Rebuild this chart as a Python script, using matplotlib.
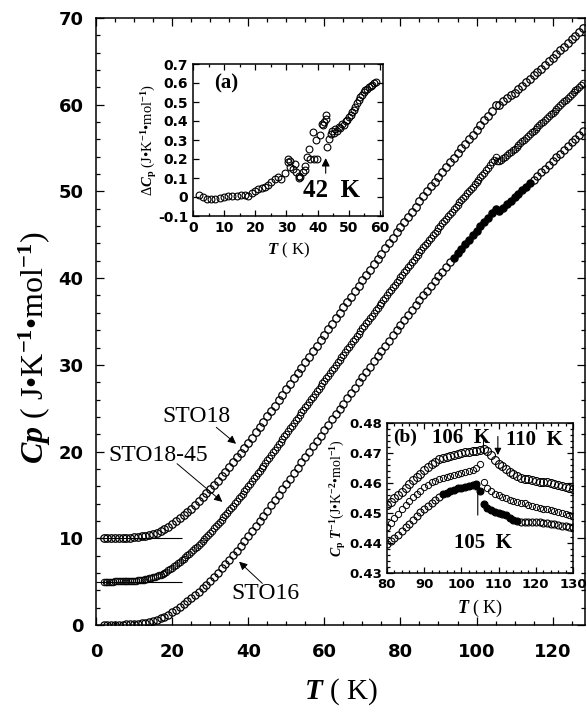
import numpy as np
import matplotlib.pyplot as plt
from matplotlib.ticker import MultipleLocator, FuncFormatter

plt.rcParams['font.family'] = 'Liberation Serif'
plt.rcParams['font.weight'] = 'bold'
plt.rcParams['mathtext.fontset'] = 'custom'
plt.rcParams['mathtext.rm'] = 'Liberation Serif:bold'
plt.rcParams['mathtext.it'] = 'Liberation Serif:bold:italic'
plt.rcParams['mathtext.bf'] = 'Liberation Serif:bold'
plt.rcParams['axes.unicode_minus'] = False

# ---- main panel: Cp(T), STO18 shifted +10, STO18-45 shifted +5 ----
T_main = np.arange(2, 129)
T_half = np.arange(2, 128.01, 0.5)

cp_sto16 = [0.00, 0.00, 0.01, 0.02, 0.03, 0.04, 0.06, 0.08, 0.11, 0.15,
            0.21, 0.28, 0.37, 0.48, 0.60, 0.76, 0.95, 1.19,
            1.46, 1.75, 2.06, 2.38, 2.72, 3.07, 3.44, 3.83, 4.24, 4.66,
            5.10, 5.56, 6.03, 6.52, 7.02, 7.53, 8.05, 8.58, 9.12, 9.67, 10.22,
            10.80, 11.39, 11.99, 12.59, 13.20, 13.81, 14.42, 15.03, 15.65, 16.27,
            16.89, 17.51, 18.13, 18.75, 19.37, 19.99, 20.61, 21.23, 21.85, 22.47,
            23.08, 23.70, 24.31, 24.93, 25.54, 26.16, 26.77, 27.38, 27.99, 28.60,
            29.21, 29.81, 30.41, 31.01, 31.61, 32.21, 32.80, 33.39, 33.98, 34.57,
            35.15, 35.73, 36.30, 36.87, 37.44, 38.00, 38.56, 39.11, 39.66, 40.21,
            40.75, 41.29, 41.82, 42.35, 42.88, 43.40, 43.92, 44.44, 44.95, 45.46,
            45.97, 46.48, 46.99, 47.50, 47.95, 47.70, 48.10, 48.50, 48.90, 49.30,
            49.71, 50.12, 50.53, 50.95, 51.37, 51.79, 52.21, 52.64, 53.07, 53.50,
            53.93, 54.36, 54.79, 55.22, 55.65, 56.08, 56.51, 56.94]

cp_sto18 = [0.00, 0.00, 0.01, 0.02, 0.03, 0.04, 0.06, 0.08, 0.11, 0.15,
            0.21, 0.28, 0.37, 0.50, 0.64, 0.82, 1.03, 1.30,
            1.61, 1.94, 2.29, 2.65, 3.03, 3.42, 3.83, 4.26, 4.71, 5.17,
            5.65, 6.14, 6.64, 7.16, 7.69, 8.23, 8.77, 9.32, 9.88, 10.45, 11.02,
            11.61, 12.21, 12.82, 13.43, 14.05, 14.67, 15.29, 15.91, 16.54, 17.17,
            17.80, 18.43, 19.06, 19.69, 20.32, 20.95, 21.58, 22.21, 22.84, 23.47,
            24.10, 24.73, 25.35, 25.99, 26.62, 27.25, 27.87, 28.50, 29.12, 29.75,
            30.38, 30.99, 31.60, 32.22, 32.84, 33.45, 34.06, 34.66, 35.27, 35.87,
            36.47, 37.07, 37.66, 38.25, 38.84, 39.42, 40.00, 40.57, 41.14, 41.71,
            42.26, 42.81, 43.35, 43.89, 44.43, 44.96, 45.49, 46.02, 46.54, 47.06,
            47.62, 48.18, 48.74, 49.30, 49.95, 50.00, 50.40, 50.75, 51.10, 51.40,
            51.79, 52.18, 52.57, 52.97, 53.37, 53.77, 54.17, 54.58, 54.99, 55.40,
            55.83, 56.26, 56.69, 57.12, 57.55, 57.98, 58.41, 58.84]

cp_sto18_45 = [0.00, 0.00, 0.00, 0.00, 0.01, 0.01, 0.02, 0.02, 0.03, 0.03,
               0.04, 0.05, 0.06, 0.07, 0.08, 0.09, 0.11, 0.13, 0.15, 0.18,
               0.21, 0.24, 0.28, 0.32, 0.37, 0.42, 0.48, 0.55, 0.62, 0.71,
               0.80, 0.91, 1.02, 1.16, 1.29, 1.45, 1.60, 1.76, 1.93, 2.10,
               2.28, 2.46, 2.64, 2.83, 3.02, 3.22, 3.42, 3.62, 3.83, 4.04,
               4.26, 4.48, 4.71, 4.94, 5.17, 5.41, 5.65, 5.89, 6.14, 6.39,
               6.64, 6.90, 7.16, 7.42, 7.69, 7.96, 8.23, 8.50, 8.77, 9.05,
               9.32, 9.60, 9.88, 10.16, 10.45, 10.73, 11.02, 11.31, 11.60, 11.90,
               12.19, 12.49, 12.79, 13.09, 13.39, 13.70, 14.00, 14.31, 14.61, 14.92,
               15.22, 15.53, 15.83, 16.14, 16.45, 16.76, 17.07, 17.37, 17.68, 17.99,
               18.29, 18.60, 18.90, 19.21, 19.51, 19.81, 20.12, 20.42, 20.73, 21.03,
               21.34, 21.64, 21.95, 22.25, 22.56, 22.86, 23.17, 23.47, 23.77, 24.07,
               24.38, 24.68, 24.98, 25.29, 25.59, 25.89, 26.19, 26.49, 26.80, 27.10,
               27.40, 27.70, 28.00, 28.30, 28.60, 28.90, 29.20, 29.50, 29.80, 30.10,
               30.39, 30.69, 30.98, 31.28, 31.57, 31.87, 32.16, 32.46, 32.76, 33.06,
               33.35, 33.65, 33.94, 34.24, 34.53, 34.83, 35.12, 35.41, 35.70, 35.99,
               36.28, 36.57, 36.85, 37.14, 37.42, 37.71, 37.99, 38.27, 38.55, 38.83,
               39.11, 39.39, 39.66, 39.94, 40.21, 40.49, 40.76, 41.03, 41.31, 41.58,
               41.86, 42.13, 42.40, 42.67, 42.94, 43.21, 43.48, 43.74, 44.00, 44.26,
               44.52, 44.78, 45.04, 45.30, 45.55, 45.81, 46.06, 46.34, 46.62, 46.90,
               47.18, 47.46, 47.74, 48.04, 48.35, 48.65, 48.95, 48.55, 48.50, 48.65,
               48.80, 49.00, 49.19, 49.38, 49.57, 49.77, 49.95, 50.15, 50.36, 50.56,
               50.76, 50.97, 51.17, 51.38, 51.59, 51.80, 52.01, 52.22, 52.42, 52.63,
               52.84, 53.05, 53.26, 53.48, 53.69, 53.90, 54.10, 54.32, 54.53, 54.74,
               54.95, 55.17, 55.38, 55.59, 55.80, 56.02, 56.23, 56.44, 56.65, 56.86,
               57.07, 57.29, 57.50]

offset_sto18 = 10
offset_sto18_45 = 5
baseline_end = 22.5
filled_range = (94, 114)   # STO16 points drawn solid in the original

# ---- inset (a): delta Cp ----
T_a = [2.0, 3.2, 4.5, 5.9, 7.2, 8.6, 9.9, 11.3, 12.6, 14.0, 15.3, 16.7, 17.7,
       18.8, 19.8, 20.9, 22.0, 23.0, 24.1, 25.2, 26.3, 27.3, 28.2, 29.5, 30.4,
       30.5, 31.0, 31.3, 32.1, 32.7, 33.2, 33.9, 34.0, 34.5, 35.4, 35.9, 36.0,
       36.5, 37.1, 37.5, 38.4, 38.8, 39.4, 39.9, 40.7, 41.3, 41.8, 42.0, 42.6,
       42.6, 43.0, 43.6, 44.2, 44.7, 45.2, 45.7, 46.2, 46.8, 47.3, 47.9, 48.4,
       49.0, 49.5, 50.0, 50.6, 51.1, 51.6, 52.1, 52.7, 53.2, 53.7, 54.3, 54.8,
       55.3, 55.9, 56.4, 57.0, 57.5, 58.1, 58.6]
dcp_a = [0.010, 0.000, -0.008, -0.010, -0.008, -0.005, -0.002, 0.003, 0.006,
         0.007, 0.008, 0.008, 0.005, 0.022, 0.033, 0.042, 0.048, 0.055, 0.063,
         0.078, 0.095, 0.105, 0.095, 0.125, 0.200, 0.185, 0.190, 0.160, 0.145,
         0.175, 0.130, 0.112, 0.100, 0.105, 0.130, 0.165, 0.140, 0.210, 0.255,
         0.200, 0.340, 0.200, 0.300, 0.200, 0.325, 0.385, 0.380, 0.395, 0.430,
         0.410, 0.265, 0.305, 0.330, 0.345, 0.335, 0.360, 0.350, 0.370, 0.365,
         0.385, 0.380, 0.400, 0.405, 0.420, 0.430, 0.445, 0.460, 0.475, 0.495,
         0.510, 0.525, 0.535, 0.550, 0.565, 0.570, 0.580, 0.585, 0.590, 0.600,
         0.605]

# ---- inset (b): Cp/T ----
T_b = np.arange(80, 131)
cpt_sto18 = [0.4526, 0.4537, 0.4549, 0.4560, 0.4571, 0.4584, 0.4597, 0.4609, 0.4620, 0.4631,
             0.4642, 0.4652, 0.4662, 0.4671, 0.4679, 0.4684, 0.4688, 0.4690, 0.4693, 0.4696,
             0.4699, 0.4702, 0.4704, 0.4706, 0.4708, 0.4710, 0.4714, 0.4706, 0.4692, 0.4678,
             0.4665, 0.4656, 0.4646, 0.4637, 0.4630, 0.4623, 0.4618, 0.4615, 0.4612, 0.4609,
             0.4607, 0.4605, 0.4604, 0.4602, 0.4599, 0.4596, 0.4592, 0.4589, 0.4586, 0.4583,
             0.4580]
cpt_sto18_45 = [0.4453, 0.4468, 0.4483, 0.4498, 0.4513, 0.4527, 0.4541, 0.4553, 0.4564, 0.4574,
                0.4586, 0.4595, 0.4602, 0.4608, 0.4613, 0.4617, 0.4621, 0.4624, 0.4628, 0.4631,
                0.4634, 0.4637, 0.4641, 0.4645, 0.4650, 0.4662, 0.4605, 0.4585, 0.4573, 0.4565,
                0.4559, 0.4555, 0.4550, 0.4545, 0.4541, 0.4538, 0.4535, 0.4532, 0.4528, 0.4524,
                0.4521, 0.4518, 0.4515, 0.4512, 0.4510, 0.4507, 0.4504, 0.4501, 0.4498, 0.4494,
                0.4491]
cpt_sto16 = [0.4398, 0.4408, 0.4418, 0.4428, 0.4440, 0.4452, 0.4464, 0.4476, 0.4489, 0.4502,
             0.4514, 0.4524, 0.4535, 0.4545, 0.4555, 0.4562, 0.4567, 0.4573, 0.4578, 0.4582,
             0.4585, 0.4587, 0.4590, 0.4593, 0.4596, 0.4575, 0.4530, 0.4518, 0.4510, 0.4505,
             0.4500, 0.4497, 0.4492, 0.4484, 0.4478, 0.4474, 0.4471, 0.4470, 0.4470, 0.4470,
             0.4470, 0.4469, 0.4467, 0.4466, 0.4465, 0.4463, 0.4460, 0.4458, 0.4456, 0.4454,
             0.4452]
filled_range_b = (95, 115)

cp_sto16 = np.array(cp_sto16)
cp_sto18 = np.array(cp_sto18)
cp_sto18_45 = np.array(cp_sto18_45)
cpt_sto16 = np.array(cpt_sto16)


def style_ticks(ax, size, major, minor):
    ax.tick_params(which='both', direction='in', top=True, right=True,
                   labelsize=size, labelfontfamily='DejaVu Sans', width=0.9)
    ax.tick_params(which='major', length=major)
    ax.tick_params(which='minor', length=minor)
    for s in ax.spines.values():
        s.set_linewidth(1.1)


fig = plt.figure(figsize=(5.87, 7.12), dpi=100)
ax = fig.add_axes([96 / 587, 87 / 712, 489 / 587, 607 / 712])

ax.plot(T_main, cp_sto18 + offset_sto18, 'o', mfc='none', mec='k', ms=5.4, mew=0.9)
ax.plot(T_half, cp_sto18_45 + offset_sto18_45, 'o', mfc='none', mec='k', ms=4.7, mew=0.7)
solid = (T_main >= filled_range[0]) & (T_main <= filled_range[1])
ax.plot(T_main[~solid], cp_sto16[~solid], 'o', mfc='none', mec='k', ms=5.2, mew=0.9)
ax.plot(T_main[solid], cp_sto16[solid], 'o', mfc='k', mec='k', ms=5.2, mew=0.9)
ax.hlines([offset_sto18_45, offset_sto18], 0, baseline_end, colors='k', lw=0.8)

ax.set_xlim(0, 128.5)
ax.set_ylim(0, 70)
ax.xaxis.set_major_locator(MultipleLocator(20))
ax.xaxis.set_minor_locator(MultipleLocator(5))
ax.yaxis.set_major_locator(MultipleLocator(10))
ax.yaxis.set_minor_locator(MultipleLocator(2))
style_ticks(ax, 13, 6, 3)
ax.tick_params(axis='x', which='both', pad=13)
ax.tick_params(axis='y', which='both', pad=9)
ax.set_xlabel(r'$T$ ( K)', fontsize=21, labelpad=11)
ax.set_ylabel(r'$Cp$ ( J•K$^{-1}$•mol$^{-1}$)', fontsize=23)
ax.yaxis.set_label_coords(-0.088, 0.457)

lab = dict(fontsize=17, fontweight='normal', ha='center', va='center')
arr = dict(arrowstyle='-|>', lw=0.7, color='k', mutation_scale=12, shrinkA=0, shrinkB=0)
ax.text(26.3, 24.0, 'STO18', **lab)
ax.annotate('', xy=(36.8, 20.9), xytext=(31.6, 22.8), arrowprops=arr)
ax.text(16.3, 19.6, 'STO18-45', **lab)
ax.annotate('', xy=(33.2, 14.2), xytext=(21.3, 18.6), arrowprops=arr)
ax.text(44.5, 3.6, 'STO16', **lab)
ax.annotate('', xy=(37.6, 7.3), xytext=(43.7, 4.8), arrowprops=arr)

# inset (a)
axa = fig.add_axes([193 / 587, 496 / 712, 190 / 587, 152 / 712])
axa.plot(T_a, dcp_a, 'o', mfc='none', mec='k', ms=4.9, mew=0.8)
axa.set_xlim(0, 61)
axa.set_ylim(-0.1, 0.7)
axa.xaxis.set_major_locator(MultipleLocator(10))
axa.xaxis.set_minor_locator(MultipleLocator(5))
axa.yaxis.set_major_locator(MultipleLocator(0.1))
axa.yaxis.set_major_formatter(FuncFormatter(lambda v, p: '0' if abs(v) < 1e-9 else f'{v:.1f}'))
style_ticks(axa, 10, 4, 2.5)
axa.set_xlabel(r'$T$ ( K)', fontsize=12, labelpad=4)
axa.set_ylabel(r'Δ$C_{\rm p}$ (J•K$^{-1}$•mol$^{-1}$)', fontsize=10.5, labelpad=-1)
axa.text(10.5, 0.6, '(a)', fontsize=15, ha='center', va='center')
axa.text(44.5, 0.035, '42  K', fontsize=18, ha='center', va='center')
axa.annotate('', xy=(42.6, 0.205), xytext=(42.6, 0.125),
             arrowprops=dict(arrowstyle='-|>', lw=0.8, color='k', mutation_scale=12,
                             shrinkA=0, shrinkB=0))

# inset (b)
axb = fig.add_axes([387 / 587, 139 / 712, 186 / 587, 150 / 712])
axb.plot(T_b, cpt_sto18, 'o', mfc='none', mec='k', ms=5.7, mew=0.8)
axb.plot(T_b, cpt_sto18_45, 'o', mfc='none', mec='k', ms=4.5, mew=0.7)
solid_b = (T_b >= filled_range_b[0]) & (T_b <= filled_range_b[1])
axb.plot(T_b[~solid_b], cpt_sto16[~solid_b], 'o', mfc='none', mec='k', ms=5.0, mew=0.8)
axb.plot(T_b[solid_b], cpt_sto16[solid_b], 'o', mfc='k', mec='k', ms=5.0, mew=0.8)
axb.set_xlim(80, 130)
axb.set_ylim(0.43, 0.48)
axb.xaxis.set_major_locator(MultipleLocator(10))
axb.xaxis.set_minor_locator(MultipleLocator(2))
axb.yaxis.set_major_locator(MultipleLocator(0.01))
axb.yaxis.set_minor_locator(MultipleLocator(0.002))
axb.yaxis.set_major_formatter(FuncFormatter(lambda v, p: f'{v:.2f}'))
style_ticks(axb, 9.5, 4, 2)
axb.set_xlabel(r'$T$ ( K)', fontsize=13, labelpad=5)
axb.set_ylabel(r'$C_{\rm p}$ $T^{-1}$(J•K$^{-2}$•mol$^{-1}$)', fontsize=10, labelpad=1)
axb.text(84.8, 0.4753, '(b)', fontsize=14, ha='center', va='center')
axb.text(99.9, 0.4750, '106  K', fontsize=15, ha='center', va='center')
axb.text(119.5, 0.4743, '110  K', fontsize=15, ha='center', va='center')
axb.text(105.8, 0.4400, '105  K', fontsize=15, ha='center', va='center')
arr_b = dict(arrowstyle='-|>', lw=0.8, color='k', mutation_scale=10, shrinkA=0, shrinkB=0)
axb.annotate('', xy=(109.8, 0.4693), xytext=(109.8, 0.4755), arrowprops=arr_b)
axb.annotate('', xy=(104.4, 0.4600), xytext=(104.4, 0.4493), arrowprops=arr_b)
axb.plot([105.8, 105.8], [0.4745, 0.4705], 'k-', lw=0.8)

fig.savefig('out.png', dpi=100)
